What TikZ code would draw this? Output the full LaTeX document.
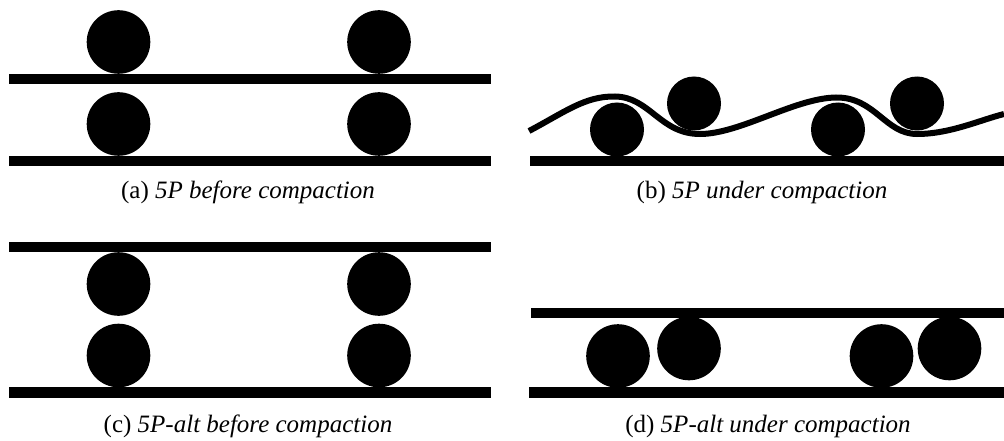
\documentclass[tikz,border=0pt]{standalone}
\usepackage{fontspec}
\setmainfont{Liberation Serif}
\begin{document}
\begin{tikzpicture}[x=1pt,y=-1pt,
  bar/.style={fill=black},
  ball/.style={fill=black},
  wave/.style={line width=6pt,draw=black},
  captext/.style={font=\fontsize{25}{30}\selectfont,anchor=base,inner sep=0pt}]
\useasboundingbox (0,0) rectangle (1004,441);
% (a)
\fill[bar] (9,74) rectangle (491,84);
\fill[bar] (9,156) rectangle (491,166);
\fill[ball] (118.5,42) circle (31.8);
\fill[ball] (118.5,124) circle (31.8);
\fill[ball] (379,42) circle (31.8);
\fill[ball] (379,124) circle (31.8);
\node[captext] (capa) at (248,198) {(a) \textit{5P before compaction}};
% (b)
\fill[bar] (530,156) rectangle (1004,166);
\fill[ball] (617,129.5) circle (27);
\fill[ball] (694,103.5) circle (27);
\fill[ball] (838,129.5) circle (27);
\fill[ball] (917,103.5) circle (27);
\draw[wave] (529,131) .. controls (565,112) and (585,96) .. (615,96.5)
  .. controls (650,97) and (660,134) .. (700,134)
  .. controls (740,134) and (795,98) .. (836,97.5)
  .. controls (875,97) and (885,134) .. (917,134)
  .. controls (950,134) and (980,120) .. (1004,114);
\node[captext] (capb) at (762,198) {(b) \textit{5P under compaction}};
% (c)
\fill[bar] (9,242) rectangle (491,252);
\fill[bar] (9,387) rectangle (491,398);
\fill[ball] (118.5,284) circle (31.8);
\fill[ball] (118.5,355.5) circle (31.8);
\fill[ball] (379,284) circle (31.8);
\fill[ball] (379,355.5) circle (31.8);
\node[captext] (capc) at (248,432) {(c) \textit{5P-alt before compaction}};
% (d)
\fill[bar] (531,308) rectangle (1004,318);
\fill[bar] (529,387) rectangle (1004,398);
\fill[ball] (618,356) circle (31.8);
\fill[ball] (689,348.5) circle (31.8);
\fill[ball] (881.5,356) circle (31.8);
\fill[ball] (949.5,348.5) circle (31.8);
\node[captext] (capd) at (768,432) {(d) \textit{5P-alt under compaction}};
\end{tikzpicture}
\end{document}
